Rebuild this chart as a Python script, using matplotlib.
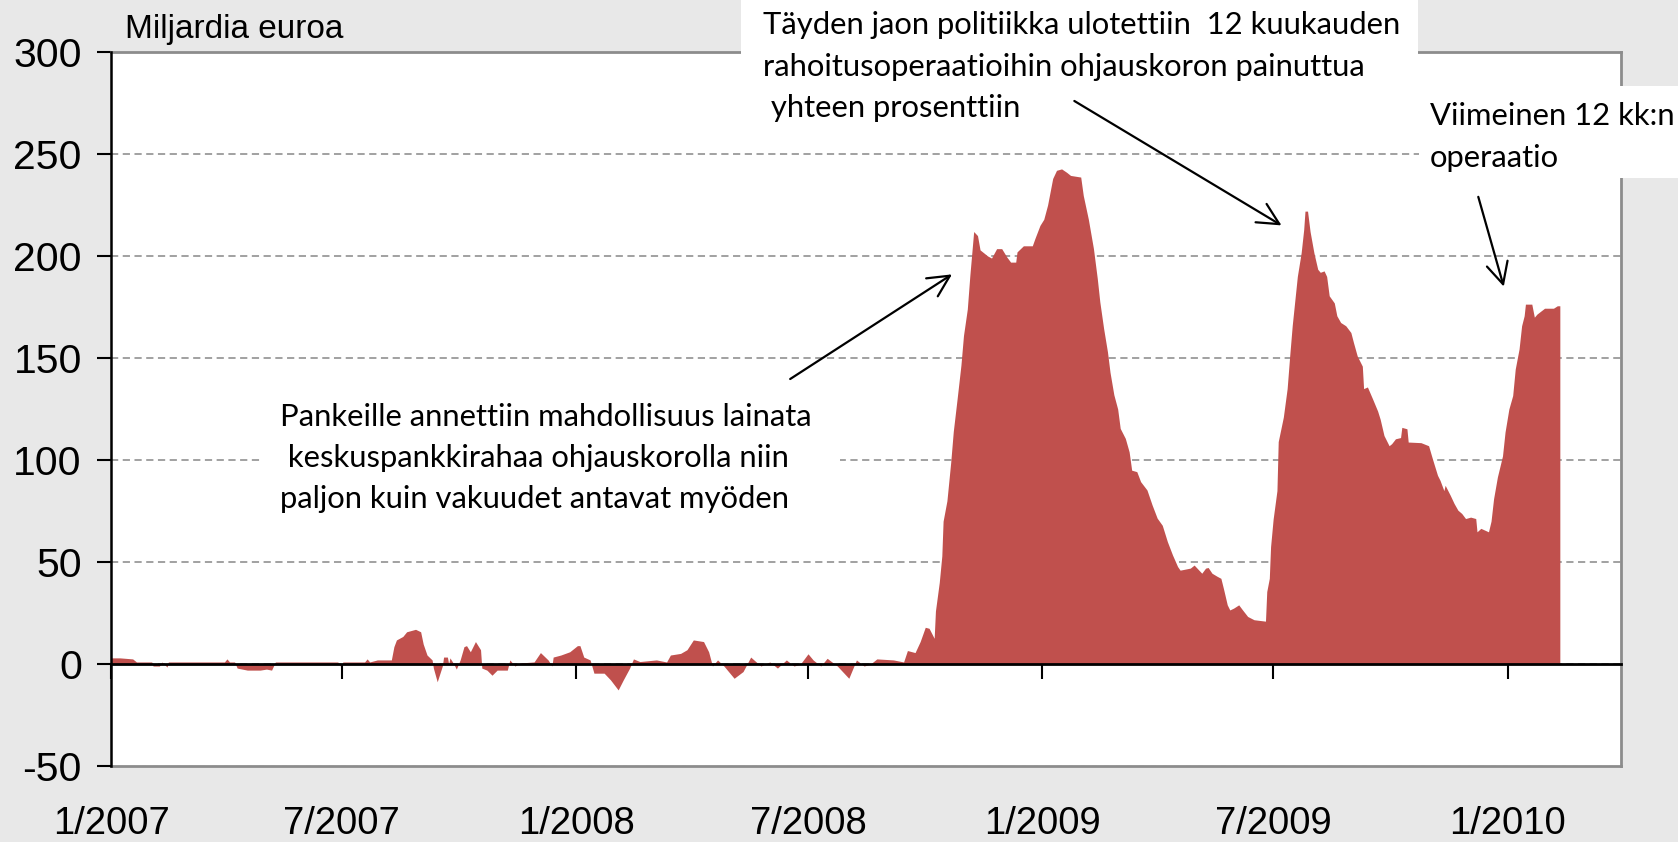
import matplotlib
matplotlib.use("Agg")
import matplotlib.pyplot as plt
import matplotlib.dates as mdates
from matplotlib.patches import Rectangle
import pandas as pd
import numpy as np

plt.rcParams["axes.unicode_minus"] = False

# ---------------- data ----------------
start_date = "2007-01-01"
day_offsets = [
    0, 7, 17, 20, 32, 33, 38, 40, 44, 45, 89, 91, 93, 97, 99, 107, 117, 122, 126, 129,
    178, 180, 182, 199, 201, 203, 209, 220, 222, 224, 229, 232, 239, 243, 245, 248,
    252, 253, 256, 260, 261, 264, 265, 266, 269, 271, 274, 277, 279, 282, 286, 290,
    291, 295, 299, 303, 311, 313, 317, 321, 332, 337, 339, 343, 346, 347, 353,
    360, 366, 368, 371, 376, 379, 387, 392, 398, 402, 407, 410, 415, 428, 436, 439,
    447, 452, 457, 465, 469, 472, 476, 481, 489, 496, 502, 510, 517, 523, 530, 536,
    541, 547, 551, 557, 562, 570, 579, 585, 591, 596, 601, 614, 622, 625, 631, 635,
    639, 642, 646,
    647, 650, 652, 653, 656, 659, 661, 664, 667, 669, 672, 674, 677, 680, 682, 688,
    691, 695, 699, 703, 706, 710, 711, 716, 723, 725, 729, 732, 735, 739, 742, 746,
    750, 753, 761, 763, 767, 771, 774, 776, 779, 782, 784, 787, 790, 792, 796, 799,
    801, 805, 808, 813, 817, 821, 825, 829, 833, 837,
    839, 847, 850, 856, 859, 861, 864, 868, 871, 873, 876, 878, 881, 885, 888, 892,
    897, 906, 907, 909, 910, 912, 915, 916, 920, 923, 925, 927, 930, 931, 934, 936,
    937, 939, 941, 944, 947, 949, 952, 954, 956, 960, 962, 965, 969, 973, 975, 978,
    982, 983, 986, 990, 994, 996, 999, 1003, 1005, 1008, 1012, 1013, 1017, 1018,
    1028, 1034, 1037, 1041, 1043, 1046, 1047, 1051, 1054, 1057, 1060, 1063, 1067,
    1071, 1072, 1075, 1081, 1083, 1085, 1088, 1092, 1094, 1097, 1100, 1102, 1105,
    1107, 1109, 1110, 1115, 1117, 1119, 1125, 1132, 1135, 1137,
]
values = [
    3, 3, 2.5, 1, 1, -1, -1, 1, -1.5, 1, 1, 2.5, 1, 1, -2, -3, -3, -2.5, -3, 1,
    1, -1, 1, 1, 2.5, 1, 2, 2, 8.5, 11.8, 13.5, 15.8, 17, 15.8, 9.8, 4.4,
    2, -2, -8.7, -1, 3.4, 3.4, 0, 3, 0, -2.5, 2, 8.5, 9, 6, 11, 7,
    -2, -3, -5.5, -3, -3, 2, -1, 0.5, 1, 5.6, 4.4, 2, -1, 3.4, 4.4,
    6, 9, 9, 3.4, 2, -4.5, -4.5, -7.8, -12.7, -7.8, -2, 2.5, 1.2, 2, 1, 4.4,
    5.2, 7, 11.8, 11, 6, -1, 2, -1, -7, -3.7, 3.4, -1, 1, -2, 2, -1,
    0, 5, 2, -1, 2.8, -1, -7, 2, -1, 0, 2.5, 2, 1, 6.6, 5.6, 11,
    18, 17.5, 12.6,
    26, 40, 53, 70, 80, 99, 114, 130, 146.5, 161, 174, 190.5, 212, 210, 203, 200,
    199, 203.6, 203.6, 199.5, 197, 197, 202, 205, 205, 208.5, 215, 218, 225, 238, 242, 242.7,
    241, 239.5, 238.7, 229.7, 218, 203.6, 189, 177.5, 164.4, 153, 143, 132, 125, 115.5, 110.6, 104,
    95, 94.3, 89.4, 85.3, 78, 71.5, 68, 60, 53.5, 47.8,
    46, 47, 48.5, 44.5, 47, 47.3, 44.5, 43, 42, 37, 29, 26.5, 27.4, 29, 26.5, 23.3,
    21.7, 21, 35.5, 42, 57.5, 71, 85, 109, 121, 135, 151, 166, 184, 190, 201.6, 213,
    222, 222, 212, 201.6, 193.5, 192, 192.7, 190, 180.5, 177, 170.7, 167.4, 165.8, 162.5, 157.7, 151,
    146, 135, 135.8, 130, 124, 120, 112, 107, 108, 110.4, 111, 116, 115.3, 108.8,
    108.5, 107, 100.6, 92.5, 90, 85, 87.6, 82.7, 78.7, 75.4, 73.8, 71.3, 72,
    71.3, 64.8, 66.5, 64.8, 70, 81, 91.7, 102, 113.7, 125, 131.6, 144.6, 154.4,
    165.8, 170.7, 176.4, 176.4, 170, 171.5, 174.4, 174.4, 175.6, 175.6,
]

tick_dates = ["2007-01-01", "2007-07-01", "2008-01-01", "2008-07-01",
              "2009-01-01", "2009-07-01", "2010-01-01"]
tick_labels = ["1/2007", "7/2007", "1/2008", "7/2008", "1/2009", "7/2009", "1/2010"]
y_ticks = [-50, 0, 50, 100, 150, 200, 250, 300]
x_end = "2010-03-31"

y_unit = "Miljardia euroa"
note1 = ["Pankeille annettiin mahdollisuus lainata",
         " keskuspankkirahaa ohjauskorolla niin",
         "paljon kuin vakuudet antavat myöden"]
note2 = ["Täyden jaon politiikka ulotettiin  12 kuukauden",
         "rahoitusoperaatioihin ohjauskoron painuttua",
         " yhteen prosenttiin"]
note3 = ["Viimeinen 12 kk:n", "operaatio"]

# ---------------- figure ----------------
W, H = 1678, 842
BG = "#e8e8e8"
RED = "#c0504d"
GRID = "#9a9a9a"
BORDER = "#8c8c8c"
TICKFONT = "Liberation Sans"
NOTEFONT = "Lato"


def fx(px):
    return px / W


def fy(py):
    return 1 - py / H


fig = plt.figure(figsize=(W / 100, H / 100), dpi=100, facecolor=BG)
ax = fig.add_axes([fx(111), fy(766), (1621 - 111) / W, (766 - 52) / H])
ax.set_facecolor("white")

x = mdates.date2num(pd.Timestamp(start_date) + pd.to_timedelta(day_offsets, unit="D"))
ax.fill_between(x, 0, values, color=RED, lw=0, zorder=2)

ax.set_xlim(mdates.date2num(pd.Timestamp(start_date)), mdates.date2num(pd.Timestamp(x_end)))
ax.set_ylim(-50, 300)

# y axis
ax.set_yticks(y_ticks)
ax.tick_params(axis="y", direction="out", length=10, width=1.5, pad=11,
               labelsize=29.5, colors="black")
for lab in ax.get_yticklabels():
    lab.set_fontfamily(TICKFONT)
ax.yaxis.grid(True, linestyle=(0, (4, 2.5)), color=GRID, lw=1.3, zorder=1)
ax.set_axisbelow(True)

# x axis line at zero with tick marks
xt = mdates.date2num(pd.to_datetime(tick_dates))
ax.spines["bottom"].set_position(("data", 0))
ax.spines["bottom"].set_color("black")
ax.spines["bottom"].set_linewidth(2)
ax.spines["bottom"].set_zorder(4)
ax.set_xticks(xt)
ax.tick_params(axis="x", direction="out", length=11, width=1.5, labelbottom=False)

ax.spines["left"].set_color("black")
ax.spines["left"].set_linewidth(1.8)
ax.spines["left"].set_zorder(4)
for s in ("top", "right"):
    ax.spines[s].set_color(BORDER)
    ax.spines[s].set_linewidth(2)

# bottom border with date labels
sec = ax.secondary_xaxis("bottom")
sec.set_xticks(xt, tick_labels)
sec.tick_params(axis="x", length=0, pad=29, labelsize=27.5)
for lab in sec.get_xticklabels():
    lab.set_fontfamily(TICKFONT)
sec.spines["bottom"].set_color(BORDER)
sec.spines["bottom"].set_linewidth(2)

# unit label
ax.text(fx(125), fy(38), y_unit, transform=fig.transFigure, fontsize=24,
        family=TICKFONT, ha="left", va="baseline", zorder=11, clip_on=False)

# annotation boxes
boxes = [(262, 392, 840, 525), (741, 0, 1418, 128), (1419, 86, 1678, 178)]
for (x0, y0, x1, y1) in boxes:
    ax.add_patch(Rectangle((fx(x0), fy(y1)), (x1 - x0) / W, (y1 - y0) / H,
                           transform=fig.transFigure, facecolor="white",
                           edgecolor="none", zorder=10, clip_on=False))


def put_lines(lines, x0, baselines):
    for line, b in zip(lines, baselines):
        ax.text(fx(x0), fy(b), line, transform=fig.transFigure, fontsize=22.3,
                family=NOTEFONT, ha="left", va="baseline", zorder=11, clip_on=False)


put_lines(note1, 280, [426, 467, 508])
put_lines(note2, 763, [34, 76, 117])
put_lines(note3, 1430, [125, 167])

# arrows (data coordinates)
def dnum(day):
    return mdates.date2num(pd.Timestamp(start_date) + pd.Timedelta(days=day))


arrows = [((533, 139.7), (660, 191)),
          ((756, 276), (918.6, 215)),
          ((1073, 229), (1093, 185))]
for (d0, v0), (d1, v1) in arrows:
    ax.annotate("", xy=(dnum(d1), v1), xytext=(dnum(d0), v0),
                arrowprops=dict(arrowstyle="->,head_length=0.7,head_width=0.35",
                                lw=1.6, color="black", shrinkA=0, shrinkB=0,
                                mutation_scale=22),
                zorder=12, annotation_clip=False)

fig.savefig("out.png", dpi=100, facecolor=BG)
